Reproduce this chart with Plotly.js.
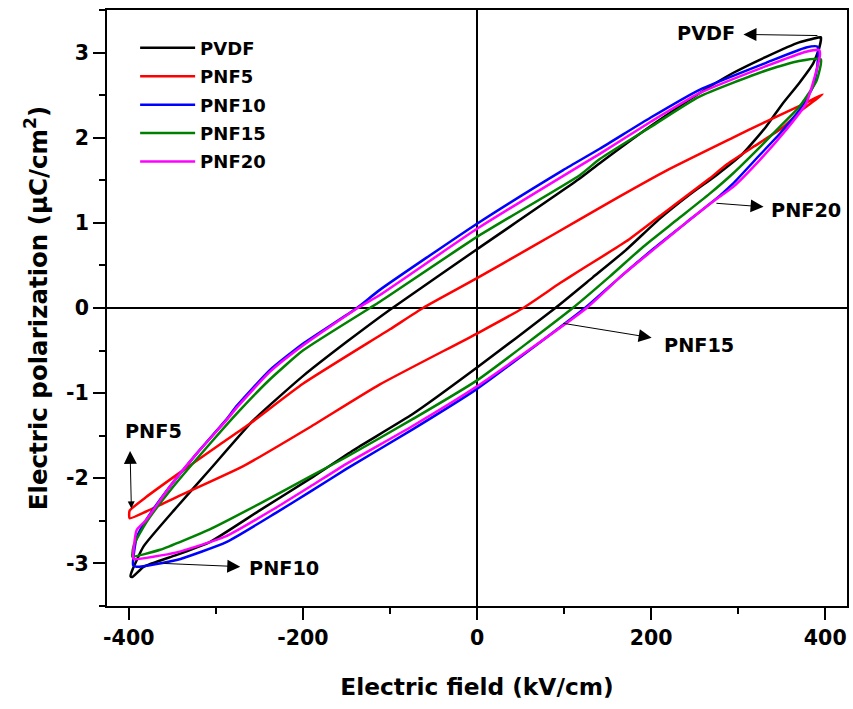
<!DOCTYPE html>
<html>
<head>
<meta charset="utf-8">
<script src="https://cdn.plot.ly/plotly-3.0.1.min.js"></script>
<style>html,body{margin:0;padding:0;background:#fff;}#chart{width:853px;height:709px;}</style>
</head>
<body>
<div id="chart"></div>
<script>
// Series names and colours
const seriesNames = ["PVDF", "PNF5", "PNF10", "PNF15", "PNF20"];
const seriesColors = ["#000000", "#ff0000", "#0000ff", "#008000", "#ff00ff"];

// Loops: from +Emax along upper branch to -Emax, then lower branch back (E in kV/cm, P in uC/cm2)
const pvdfE = [395, 385, 370, 332, 294, 255, 200, 141, 118, 0, -100, -150, -200, -257, -307, -345, -383, -396, -398,
               -396, -383, -345, -307, -250, -188, -142, -73, 0, 90, 133, 171, 210, 244, 275, 305, 332, 351, 370, 386, 393, 395];
const pvdfP = [3.18, 3.16, 3.12, 2.95, 2.76, 2.52, 2.14, 1.70, 1.52, 0.69, -0.02, -0.40, -0.80, -1.32, -1.90, -2.34, -2.80, -3.08, -3.15,
               -3.16, -3.04, -2.90, -2.75, -2.38, -1.98, -1.67, -1.24, -0.70, 0.0, 0.36, 0.68, 1.05, 1.33, 1.56, 1.81, 2.13, 2.40, 2.64, 2.87, 3.05, 3.18];

const pnf5E = [397, 370, 332, 294, 217, 164, 118, 60, 0, -62, -100, -200, -261, -295, -345, -380, -399,
               -399, -380, -345, -269, -192, -112, 0, 53, 95, 118, 171, 210, 267, 286, 317, 350, 370, 397];
const pnf5P = [2.51, 2.37, 2.19, 2.00, 1.61, 1.31, 1.04, 0.70, 0.35, 0.0, -0.25, -0.89, -1.36, -1.60, -1.96, -2.22, -2.38,
               -2.47, -2.39, -2.22, -1.86, -1.40, -0.90, -0.30, 0.0, 0.29, 0.44, 0.78, 1.08, 1.52, 1.68, 1.89, 2.11, 2.30, 2.51];

const pnf10E = [391, 378, 332, 255, 200, 141, 99, 0, -112, -138, -200, -238, -276, -288, -322, -353, -380, -391, -395,
                -391, -345, -288, -230, -192, -150, -73, 0, 124, 164, 202, 240, 279, 294, 325, 348, 370, 386, 391, 391];
const pnf10P = [3.07, 3.06, 2.88, 2.56, 2.24, 1.87, 1.62, 0.99, 0.21, 0.0, -0.42, -0.73, -1.15, -1.31, -1.71, -2.10, -2.49, -2.70, -3.02,
                -3.04, -2.96, -2.75, -2.40, -2.16, -1.89, -1.42, -0.95, 0.0, 0.36, 0.69, 1.00, 1.32, 1.46, 1.80, 2.05, 2.32, 2.60, 2.85, 3.07];

const pnf15E = [395, 370, 332, 255, 200, 141, 118, 0, -112, -123, -200, -238, -276, -303, -349, -380, -394, -396,
                -396, -364, -307, -250, -192, -150, -73, 0, 110, 152, 191, 229, 267, 294, 325, 348, 370, 390, 395];
const pnf15P = [2.92, 2.90, 2.79, 2.48, 2.13, 1.75, 1.56, 0.835, 0.07, 0.0, -0.50, -0.84, -1.24, -1.55, -2.10, -2.52, -2.78, -2.90,
                -2.92, -2.84, -2.60, -2.30, -1.98, -1.75, -1.30, -0.85, 0.0, 0.365, 0.72, 1.03, 1.34, 1.58, 1.89, 2.13, 2.36, 2.67, 2.92];

const pnf20E = [393, 378, 332, 255, 200, 141, 110, 0, -112, -137, -200, -238, -276, -288, -322, -353, -380, -391, -395,
                -394, -345, -288, -230, -192, -150, -73, 0, 126, 164, 202, 240, 275, 294, 325, 355, 378, 391, 394, 393];
const pnf20P = [3.03, 3.01, 2.84, 2.52, 2.19, 1.81, 1.62, 0.93, 0.15, 0.0, -0.44, -0.75, -1.17, -1.32, -1.71, -2.10, -2.49, -2.61, -2.93,
                -2.95, -2.87, -2.68, -2.34, -2.10, -1.83, -1.38, -0.92, 0.0, 0.36, 0.68, 1.00, 1.28, 1.42, 1.74, 2.09, 2.40, 2.83, 2.98, 3.03];

// Tick labels
const xTickVals = [-400, -200, 0, 200, 400];
const xTickText = ["-400", "-200", "0", "200", "400"];
const yTickVals = [-3, -2, -1, 0, 1, 2, 3];
const yTickText = ["-3", "-2", "-1", "0", "1", "2", "3"];

// Axis titles
const xTitle = "Electric field (kV/cm)";
const yTitle = "Electric polarization (\u03bcC/cm<sup>2</sup>)";

// Labels with arrows (label position, pointed-from data position)
const labelTexts = ["PVDF", "PNF20", "PNF15", "PNF10", "&nbsp;&nbsp;&nbsp;&nbsp;&nbsp;&nbsp;&nbsp;PNF5"];
const labelE = [263, 378, 255, -222, -399];
const labelP = [3.22, 1.15, -0.44, -3.06, -1.455];
const arrowTailE = [391, 275, 99, -360, -397];
const arrowTailP = [3.20, 1.23, -0.18, -3.00, -2.354];
const arrowSides = ["start", "start", "start", "start", "end+start"];
const arrowGaps = [7, 6, 11, 7, 6];

const FONT = "DejaVu Sans, Arial, sans-serif";
const xs = [pvdfE, pnf5E, pnf10E, pnf15E, pnf20E];
const ys = [pvdfP, pnf5P, pnf10P, pnf15P, pnf20P];

const traces = seriesNames.map((n, i) => ({
  type: "scatter", mode: "lines", name: n, x: xs[i], y: ys[i], legendgroup: "g" + i,
  line: {color: seriesColors[i], width: 2.5, shape: "spline", smoothing: 0.5}
}));

const annotations = labelTexts.map((t, i) => ({
  x: arrowTailE[i], y: arrowTailP[i], xref: "x", yref: "y",
  ax: labelE[i], ay: labelP[i], axref: "x", ayref: "y",
  text: t, showarrow: true,
  arrowhead: 2, arrowsize: 1.4, startarrowhead: 2, startarrowsize: 2.6,
  arrowwidth: 1, arrowcolor: "#000",
  arrowside: arrowSides[i], startstandoff: arrowGaps[i], standoff: 0,
  font: {family: FONT, size: 19.3, weight: "bold", color: "#000"}
}));

const axisCommon = {
  tickmode: "array", ticks: "outside", ticklen: 12, tickwidth: 2, tickcolor: "#000",
  showline: true, linewidth: 2, linecolor: "#000", mirror: true,
  zeroline: true, zerolinewidth: 2, zerolinecolor: "#000", showgrid: false,
  tickfont: {family: FONT, size: 20.5, weight: "bold", color: "#000"}
};

const layout = {
  width: 853, height: 709,
  margin: {l: 107, r: 6, t: 10, b: 103},
  paper_bgcolor: "#fff", plot_bgcolor: "#fff",
  showlegend: true,
  legend: {x: 0.038, y: 0.967, xanchor: "left", yanchor: "top", bgcolor: "rgba(0,0,0,0)",
    tracegroupgap: 2,
    font: {family: FONT, size: 18, weight: "bold", color: "#000"}, itemwidth: 55},
  xaxis: Object.assign({}, axisCommon, {
    range: [-425, 425], tickvals: xTickVals, ticktext: xTickText,
    minor: {tickmode: "linear", tick0: 0, dtick: 100, ticks: "outside", ticklen: 6, tickwidth: 2, tickcolor: "#000", showgrid: false},
    title: {text: xTitle, font: {family: FONT, size: 23.3, weight: "bold", color: "#000"}, standoff: 30}
  }),
  yaxis: Object.assign({}, axisCommon, {
    range: [-3.5, 3.5], tickvals: yTickVals, ticktext: yTickText,
    minor: {tickmode: "linear", tick0: 0, dtick: 0.5, ticks: "outside", ticklen: 6, tickwidth: 2, tickcolor: "#000", showgrid: false},
    title: {text: yTitle, font: {family: FONT, size: 24.5, weight: "bold", color: "#000"}, standoff: 12}
  }),
  annotations: annotations
};

Plotly.newPlot("chart", traces, layout, {displayModeBar: false, staticPlot: true});
</script>
</body>
</html>
